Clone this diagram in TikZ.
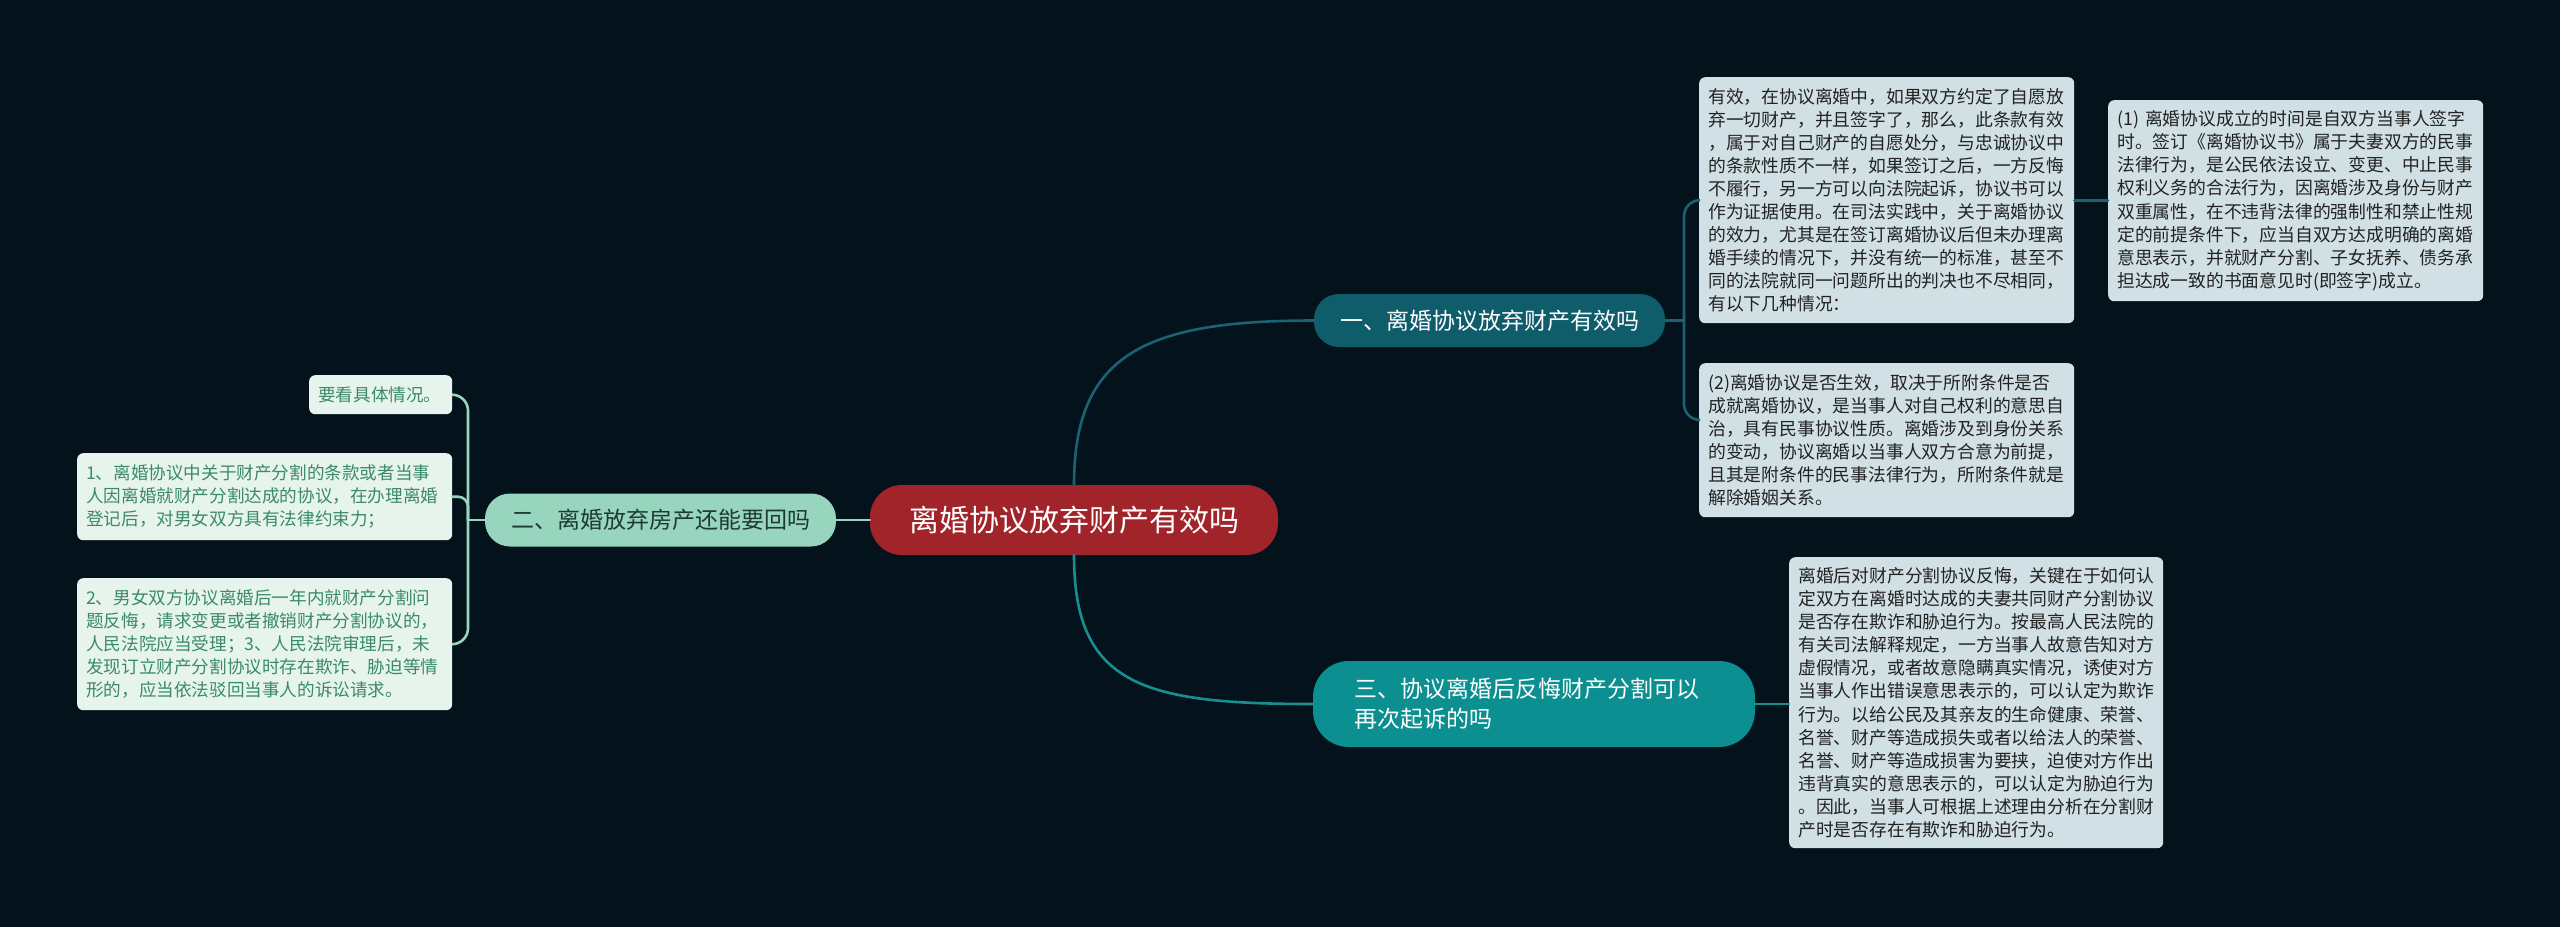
\documentclass[tikz,border=0pt]{standalone}
\usepackage{fontspec}
\setmainfont{Noto Sans CJK SC}
\definecolor{bg}{HTML}{04121B}
\definecolor{rootfill}{HTML}{A0242A}
\definecolor{bonefill}{HTML}{0F5C6B}
\definecolor{btwofill}{HTML}{98D5BE}
\definecolor{btwotext}{HTML}{1E3A33}
\definecolor{bthreefill}{HTML}{0C8F90}
\definecolor{leafRfill}{HTML}{D0E0E4}
\definecolor{leafRtext}{HTML}{222222}
\definecolor{leafLfill}{HTML}{E7F4EE}
\definecolor{leafLtext}{HTML}{3A8A6A}
\definecolor{cone}{HTML}{1B6373}
\definecolor{cthree}{HTML}{178F90}
\definecolor{ctwo}{HTML}{98D5BE}
\tikzset{
  rootbox/.style={fill=rootfill, text=white, rounded corners=32pt, inner sep=0pt,
    font=\fontsize{30}{36}\selectfont},
  branchbox/.style={rounded corners=25pt, inner sep=0pt,
    font=\fontsize{23}{30}\selectfont},
  leafR/.style={fill=leafRfill, text=leafRtext, rounded corners=6pt, anchor=north west,
    align=left, inner xsep=9pt, inner ysep=0pt, font=\fontsize{17.8}{23.1}\selectfont},
  leafL/.style={fill=leafLfill, text=leafLtext, rounded corners=6pt, anchor=north west,
    align=left, inner xsep=9pt, inner ysep=0pt, font=\fontsize{17.6}{23.1}\selectfont},
  conn/.style={line width=2.6pt, line cap=round},
}
\begin{document}
\begin{tikzpicture}[x=1pt,y=-1pt]
\fill[bg] (0,0) rectangle (2560,927);
\useasboundingbox (0,0) rectangle (2560,927);

% root
\node[rootbox, minimum width=408pt, minimum height=70pt] (root) at (1074,520) {离婚协议放弃财产有效吗};

% branches
\node[branchbox, fill=bonefill, text=white, minimum width=351pt, minimum height=53pt] (b1) at (1489.5,320.5) {一、离婚协议放弃财产有效吗};
\node[branchbox, fill=btwofill, text=btwotext, minimum width=351pt, minimum height=53pt] (b2) at (660.5,520) {二、离婚放弃房产还能要回吗};
\node[branchbox, fill=bthreefill, text=white, rounded corners=36pt, minimum width=442pt, minimum height=86pt, text width=360pt, align=left] (b3) at (1534,704) {三、协议离婚后反悔财产分割可以\\再次起诉的吗};

% right leaves
\node[leafR, minimum width=375pt, minimum height=246pt, text width=357pt] (l1a) at (1699,77) {有效，在协议离婚中，如果双方约定了自愿放\\弃一切财产，并且签字了，那么，此条款有效\\，属于对自己财产的自愿处分，与忠诚协议中\\的条款性质不一样，如果签订之后，一方反悔\\不履行，另一方可以向法院起诉，协议书可以\\作为证据使用。在司法实践中，关于离婚协议\\的效力，尤其是在签订离婚协议后但未办理离\\婚手续的情况下，并没有统一的标准，甚至不\\同的法院就同一问题所出的判决也不尽相同，\\有以下几种情况：};
\node[leafR, minimum width=375pt, minimum height=201pt, text width=357pt] (l1c) at (2108,100) {(1) 离婚协议成立的时间是自双方当事人签字\\时。签订《离婚协议书》属于夫妻双方的民事\\法律行为，是公民依法设立、变更、中止民事\\权利义务的合法行为，因离婚涉及身份与财产\\双重属性，在不违背法律的强制性和禁止性规\\定的前提条件下，应当自双方达成明确的离婚\\意思表示，并就财产分割、子女抚养、债务承\\担达成一致的书面意见时(即签字)成立。};
\node[leafR, minimum width=375pt, minimum height=154pt, text width=357pt] (l1b) at (1699,363) {(2)离婚协议是否生效，取决于所附条件是否\\成就离婚协议，是当事人对自己权利的意思自\\治，具有民事协议性质。离婚涉及到身份关系\\的变动，协议离婚以当事人双方合意为前提，\\且其是附条件的民事法律行为，所附条件就是\\解除婚姻关系。};
\node[leafR, minimum width=374pt, minimum height=291pt, text width=356pt] (l3a) at (1789,557) {离婚后对财产分割协议反悔，关键在于如何认\\定双方在离婚时达成的夫妻共同财产分割协议\\是否存在欺诈和胁迫行为。按最高人民法院的\\有关司法解释规定，一方当事人故意告知对方\\虚假情况，或者故意隐瞒真实情况，诱使对方\\当事人作出错误意思表示的，可以认定为欺诈\\行为。以给公民及其亲友的生命健康、荣誉、\\名誉、财产等造成损失或者以给法人的荣誉、\\名誉、财产等造成损害为要挟，迫使对方作出\\违背真实的意思表示的，可以认定为胁迫行为\\。因此，当事人可根据上述理由分析在分割财\\产时是否存在有欺诈和胁迫行为。};

% left leaves
\node[leafL, minimum width=143pt, minimum height=39pt, text width=125pt] (l2a) at (309,375) {要看具体情况。};
\node[leafL, minimum width=375pt, minimum height=87pt, text width=357pt] (l2b) at (77,453) {1、离婚协议中关于财产分割的条款或者当事\\人因离婚就财产分割达成的协议，在办理离婚\\登记后，对男女双方具有法律约束力；};
\node[leafL, minimum width=375pt, minimum height=132pt, text width=357pt] (l2c) at (77,578) {2、男女双方协议离婚后一年内就财产分割问\\题反悔，请求变更或者撤销财产分割协议的，\\人民法院应当受理；3、人民法院审理后，未\\发现订立财产分割协议时存在欺诈、胁迫等情\\形的，应当依法驳回当事人的诉讼请求。};

% junction coordinates
\coordinate (j1) at (1684,320.5);
\coordinate (j2) at (468,520);

% connectors root -> branches
\draw[conn, cone] (root.north) .. controls +(0,-130) and +(-170,0) .. (b1.west);
\draw[conn, cthree] (root.south) .. controls +(0,130) and +(-170,0) .. (b3.west);
\draw[conn, ctwo] (root.west) -- (b2.east);

% branch 1 -> leaves
\draw[conn, cone] (b1.east) -- (j1);
\draw[conn, cone, rounded corners=16pt] (j1) |- (l1a.west);
\draw[conn, cone, rounded corners=16pt] (j1) |- ([yshift=-57pt]l1b.north west);
\draw[conn, cone] (l1a.east) -- (l1c.west |- l1a.east);

% branch 3 -> leaf
\draw[conn, cthree] (b3.east) -- (l3a.west |- b3.east);

% branch 2 -> leaves
\draw[conn, ctwo] (b2.west) -- (j2);
\draw[conn, ctwo, rounded corners=16pt] (j2) |- (l2a.east);
\draw[conn, ctwo, rounded corners=10pt] (j2) |- (l2b.east);
\draw[conn, ctwo, rounded corners=16pt] (j2) |- (l2c.east);
\end{tikzpicture}
\end{document}
